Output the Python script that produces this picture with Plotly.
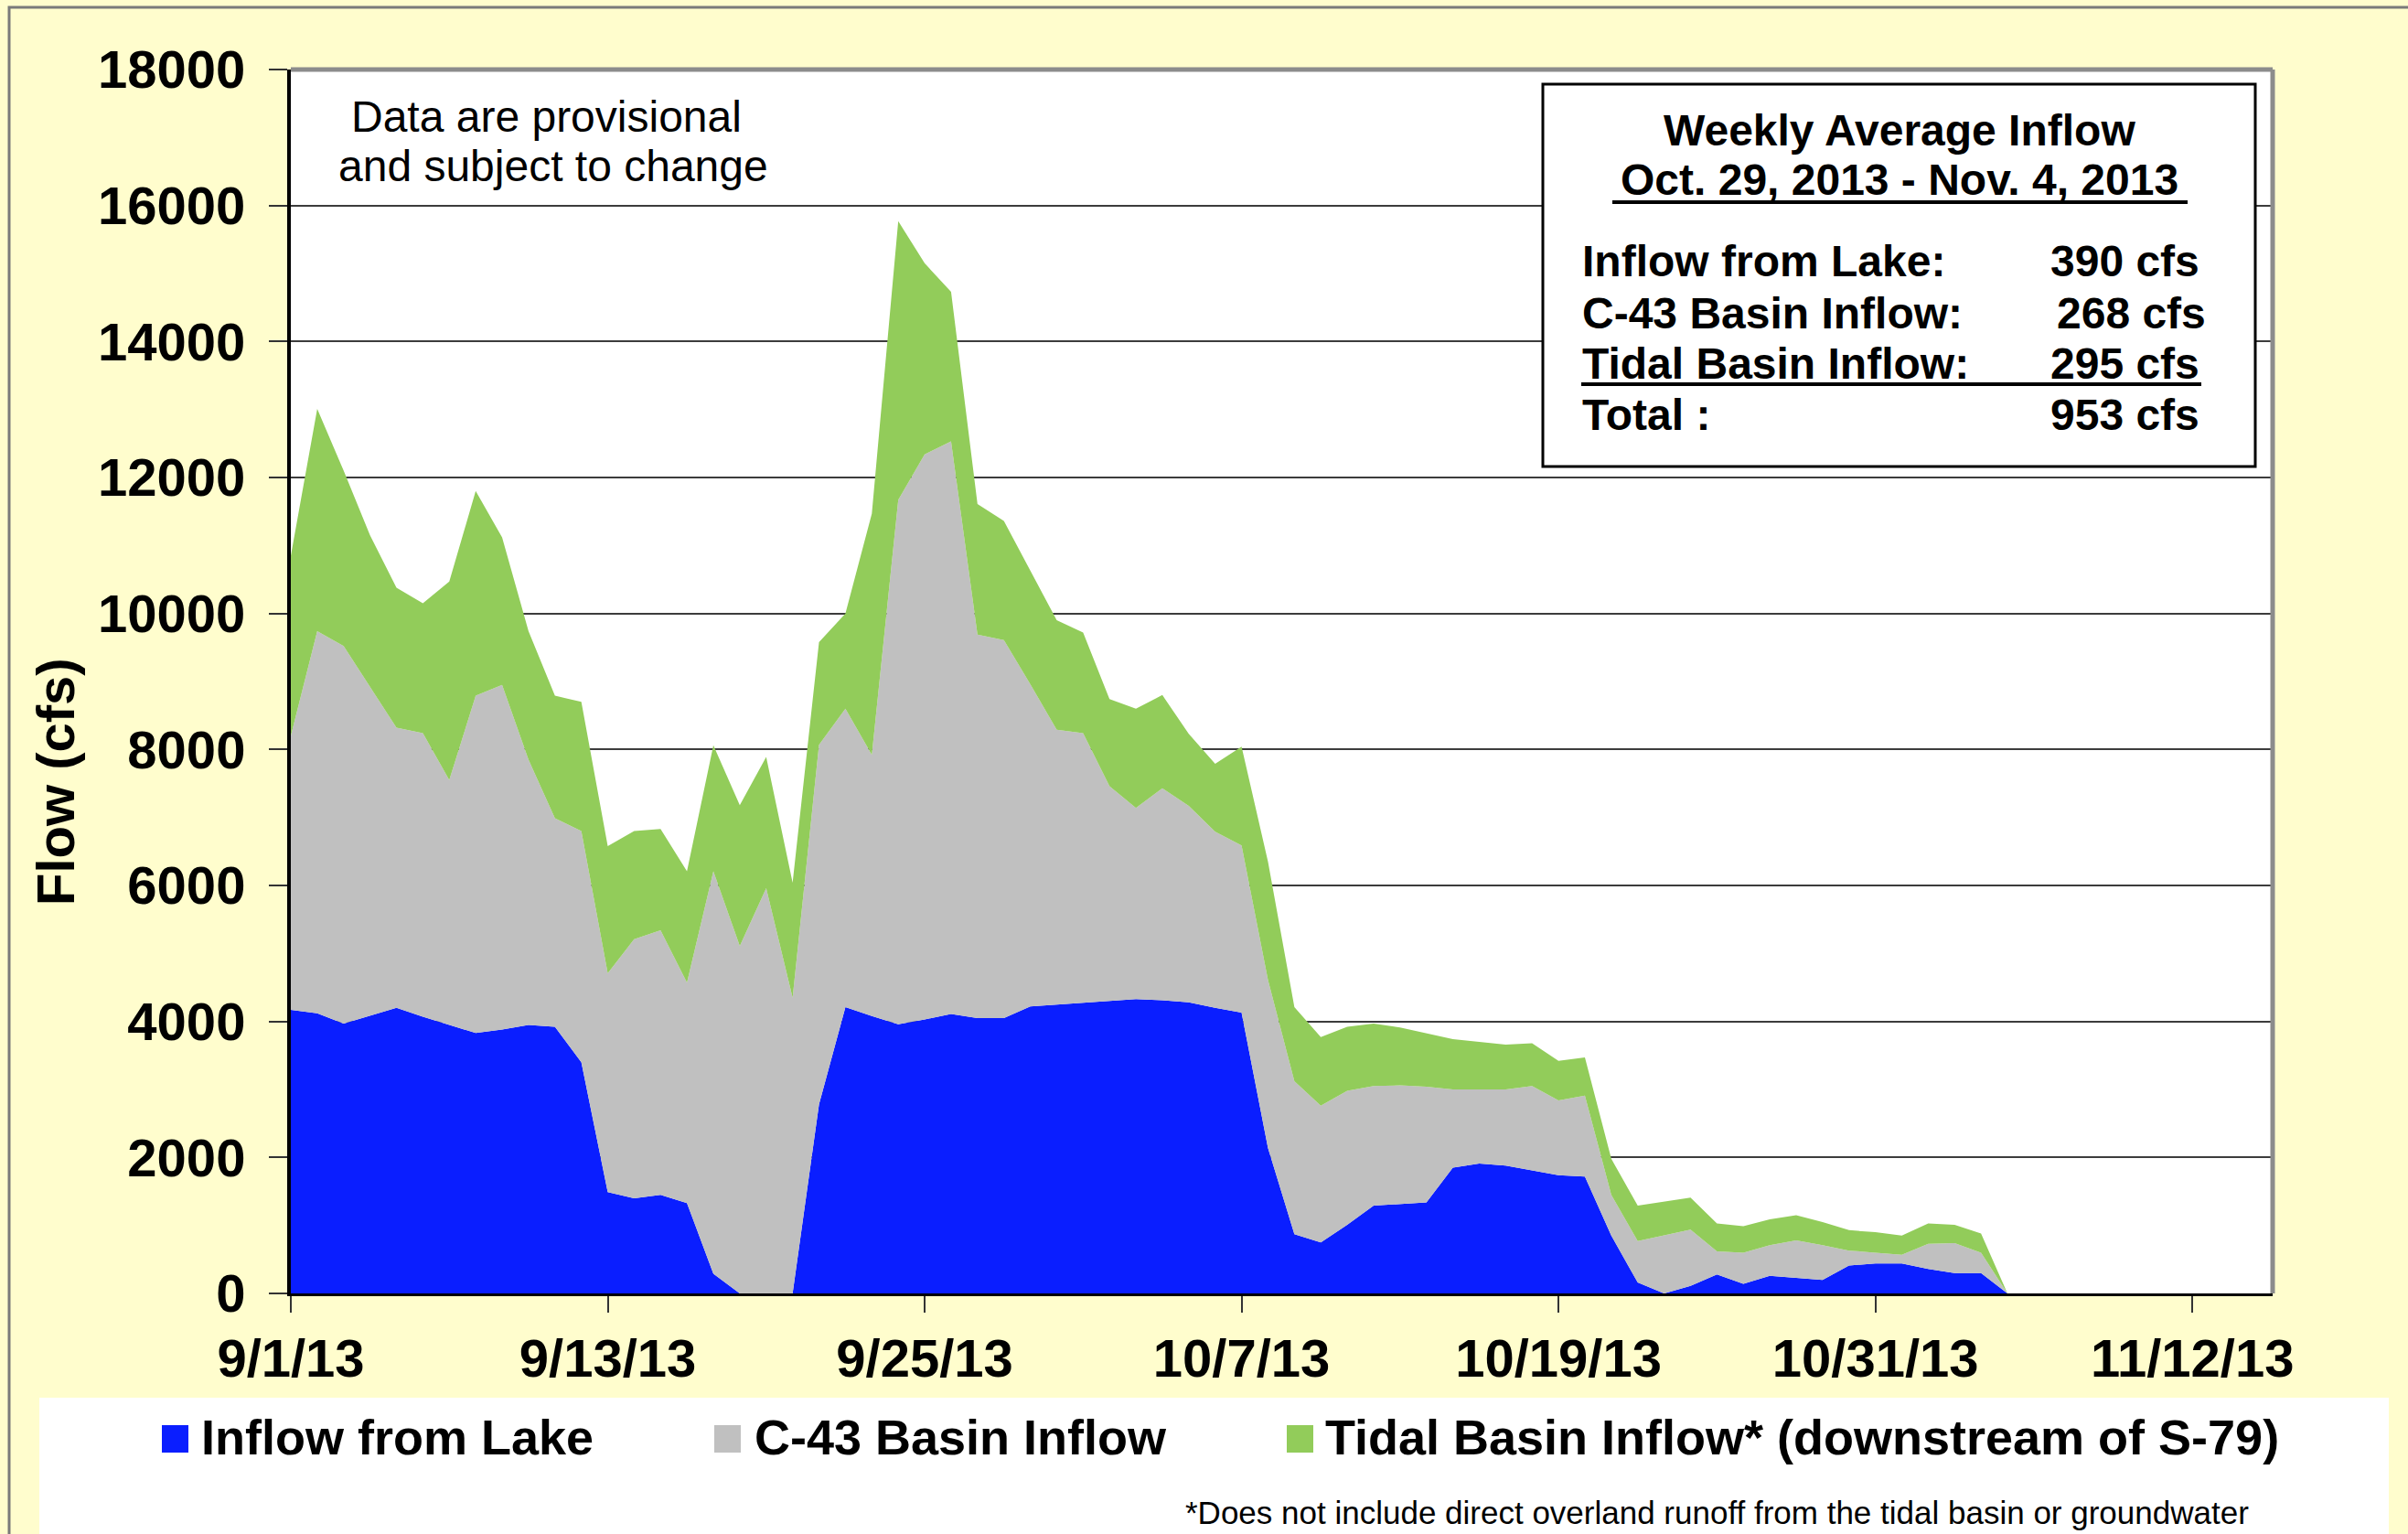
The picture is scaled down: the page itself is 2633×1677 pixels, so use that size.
import plotly.graph_objects as go
import pandas as pd

# ---------------- data (cfs), daily from 9/1/2013 ----------------
start_date = "2013-09-01"
lake = [4170, 4120, 3970, 4080, 4200, 4070, 3950, 3830, 3880, 3950,
        3920, 3400, 1490, 1400, 1450, 1330, 290, 0, 0, 0,
        2780, 4210, 4080, 3960, 4030, 4110, 4050, 4050, 4220, 4250,
        4270, 4300, 4330, 4310, 4280, 4200, 4130, 2140, 870, 750,
        1010, 1290, 1310, 1340, 1850, 1910, 1880, 1810, 1740, 1720,
        850, 160, 0, 110, 280, 140, 260, 230, 200, 410,
        440, 440, 360, 300, 300, 0, 0, 0, 0, 0,
        0, 0, 0, 0, 0, 0]
c43 = [4030, 5620, 5550, 4840, 4120, 4170, 3600, 4960, 5070, 3900,
       3070, 3400, 3220, 3810, 3890, 3240, 5920, 5110, 5960, 4350,
       5290, 4390, 3840, 7710, 8310, 8420, 5640, 5560, 4740, 4040,
       3970, 3160, 2810, 3120, 2890, 2590, 2460, 2470, 2250, 2010,
       1970, 1760, 1750, 1700, 1150, 1090, 1120, 1240, 1100, 1190,
       600, 610, 850, 830, 340, 460, 450, 550, 510, 220,
       160, 130, 370, 440, 300, 0, 0, 0, 0, 0,
       0, 0, 0, 0, 0, 0]
tidal = [2650, 3270, 2580, 2230, 2060, 1910, 2920, 3010, 2170, 1890,
         1800, 1900, 1870, 1590, 1490, 1640, 1850, 2070, 1930, 1690,
         1510, 1400, 3550, 4100, 2810, 2200, 1920, 1750, 1670, 1610,
         1480, 1280, 1460, 1370, 1060, 1000, 1450, 1740, 1090, 1010,
         940, 920, 850, 790, 740, 700, 660, 630, 580, 560,
         530, 520, 500, 470, 410, 390, 380, 370, 340, 300,
         300, 280, 300, 270, 280, 0, 0, 0, 0, 0,
         0, 0, 0, 0, 0, 0]
dates = pd.date_range(start_date, periods=len(lake), freq="D")

series_names = ["Inflow from Lake", "C-43 Basin Inflow",
                "Tidal Basin Inflow* (downstream of S-79)"]
series_colors = ["#0a1eff", "#c0c0c0", "#92cc5a"]

x_tick_vals = ["2013-09-01", "2013-09-13", "2013-09-25", "2013-10-07",
               "2013-10-19", "2013-10-31", "2013-11-12"]
x_tick_text = ["9/1/13", "9/13/13", "9/25/13", "10/7/13",
               "10/19/13", "10/31/13", "11/12/13"]
y_tick_vals = [0, 2000, 4000, 6000, 8000, 10000, 12000, 14000, 16000, 18000]
y_tick_text = ["0", "2000", "4000", "6000", "8000", "10000", "12000",
               "14000", "16000", "18000"]

box_title = ["Weekly Average Inflow", "Oct. 29, 2013 - Nov. 4, 2013"]
box_labels = ["Inflow from Lake:", "C-43 Basin Inflow:", "Tidal Basin Inflow:", "Total :"]
box_values = ["390 cfs", "268 cfs", "295 cfs", "953 cfs"]

# ---------------- geometry ----------------
W, H = 2633, 1677
L, R, T, B = 318, 2485, 76, 1414
FONT = "Liberation Sans, Arial, sans-serif"
BG = "#fffdcd"


def px(x):
    return (x - L) / (R - L)


def py(y):
    return (B - y) / (B - T)


fig = go.Figure()
for vals, name, col in zip([lake, c43, tidal], series_names, series_colors):
    fig.add_trace(go.Scatter(
        x=dates, y=vals, name=name, mode="lines", stackgroup="one",
        line=dict(width=0, color=col), fillcolor=col, showlegend=False))

shapes = []
annotations = []

# outer frame
shapes.append(dict(type="rect", xref="paper", yref="paper",
                   x0=px(10), x1=px(2700), y0=py(1750), y1=py(8),
                   line=dict(color="#7a7a7a", width=3), layer="below"))
# white legend band
shapes.append(dict(type="rect", xref="paper", yref="paper",
                   x0=px(43), x1=px(2612), y0=py(1690), y1=py(1528),
                   line=dict(width=0), fillcolor="white", layer="below"))
# top and right gray border of plot
shapes.append(dict(type="line", xref="paper", yref="paper",
                   x0=0, x1=1, y0=1, y1=1, line=dict(color="#8c8c8c", width=5)))
shapes.append(dict(type="line", xref="paper", yref="paper",
                   x0=1, x1=1, y0=0, y1=1, line=dict(color="#8c8c8c", width=5)))

# info box
shapes.append(dict(type="rect", xref="paper", yref="paper",
                   x0=px(1687), x1=px(2466), y0=py(510), y1=py(92),
                   line=dict(color="black", width=3), fillcolor="white", layer="above"))
shapes.append(dict(type="line", xref="paper", yref="paper",
                   x0=px(1763), x1=px(2392), y0=py(221), y1=py(221),
                   line=dict(color="black", width=4)))
shapes.append(dict(type="line", xref="paper", yref="paper",
                   x0=px(1729), x1=px(2407), y0=py(420), y1=py(420),
                   line=dict(color="black", width=4)))


def ann(text, x, y, size, xanchor="center", bold=True, angle=0, color="black"):
    annotations.append(dict(
        text=text, xref="paper", yref="paper", x=px(x), y=py(y),
        xanchor=xanchor, yanchor="middle", showarrow=False, textangle=angle,
        font=dict(family=FONT, size=size, color=color,
                  weight="bold" if bold else "normal")))


ann(box_title[0], 2077, 143, 48)
ann(box_title[1], 2077, 197, 48)
row_y = [285, 342, 397, 453]
val_x = [2407, 2414, 2407, 2407]
for lab, val, yy, vx in zip(box_labels, box_values, row_y, val_x):
    ann(lab, 1728, yy, 48, xanchor="left")
    ann(val, vx, yy, 48, xanchor="right")

# provisional note
ann("Data are provisional", 597, 127, 48, bold=False)
ann("and subject to change", 605, 181, 48, bold=False)

# y title
ann("Flow (cfs)", 60, 855, 58, angle=-90)

# legend
leg_sq_x = [177, 781, 1407]
leg_txt_x = [218, 823, 1447]
for name, col, sx, tx in zip(series_names, series_colors, leg_sq_x, leg_txt_x):
    shapes.append(dict(type="rect", xref="paper", yref="paper",
                       x0=px(sx), x1=px(sx + 29), y0=py(1588), y1=py(1558),
                       line=dict(width=0), fillcolor=col))
    ann(name, tx, 1571, 54, xanchor="left")

ann("*Does not include direct overland runoff from the tidal basin or groundwater",
    2461, 1653, 35, xanchor="right", bold=False)

fig.update_layout(
    width=W, height=H,
    margin=dict(l=L, r=W - R, t=T, b=H - B, autoexpand=False),
    paper_bgcolor=BG, plot_bgcolor="white",
    shapes=shapes, annotations=annotations,
    font=dict(family=FONT, color="black"),
)
fig.update_xaxes(
    type="date", range=["2013-09-01", "2013-11-15 01:00"],
    tickmode="array", tickvals=x_tick_vals, ticktext=x_tick_text,
    tickfont=dict(family=FONT, size=58, weight="bold"),
    ticks="outside", ticklen=18, tickwidth=2, tickcolor="#333",
    showline=True, linecolor="black", linewidth=3,
    showgrid=False, zeroline=False, automargin=False,
)
fig.update_yaxes(
    range=[0, 18000], tickmode="array", tickvals=y_tick_vals, ticktext=y_tick_text,
    tickfont=dict(family=FONT, size=58, weight="bold"),
    ticks="outside", ticklen=20, tickwidth=2, tickcolor="#333",
    ticklabelstandoff=14,
    showline=True, linecolor="black", linewidth=4,
    showgrid=True, gridcolor="#3c3c3c", gridwidth=2,
    zeroline=False, automargin=False,
)

fig.write_html("out.html",
               config={"displayModeBar": False},
               post_script="document.body.style.margin='0';"
                           "document.body.style.overflow='hidden';"
                           "document.body.style.background='" + BG + "';")
